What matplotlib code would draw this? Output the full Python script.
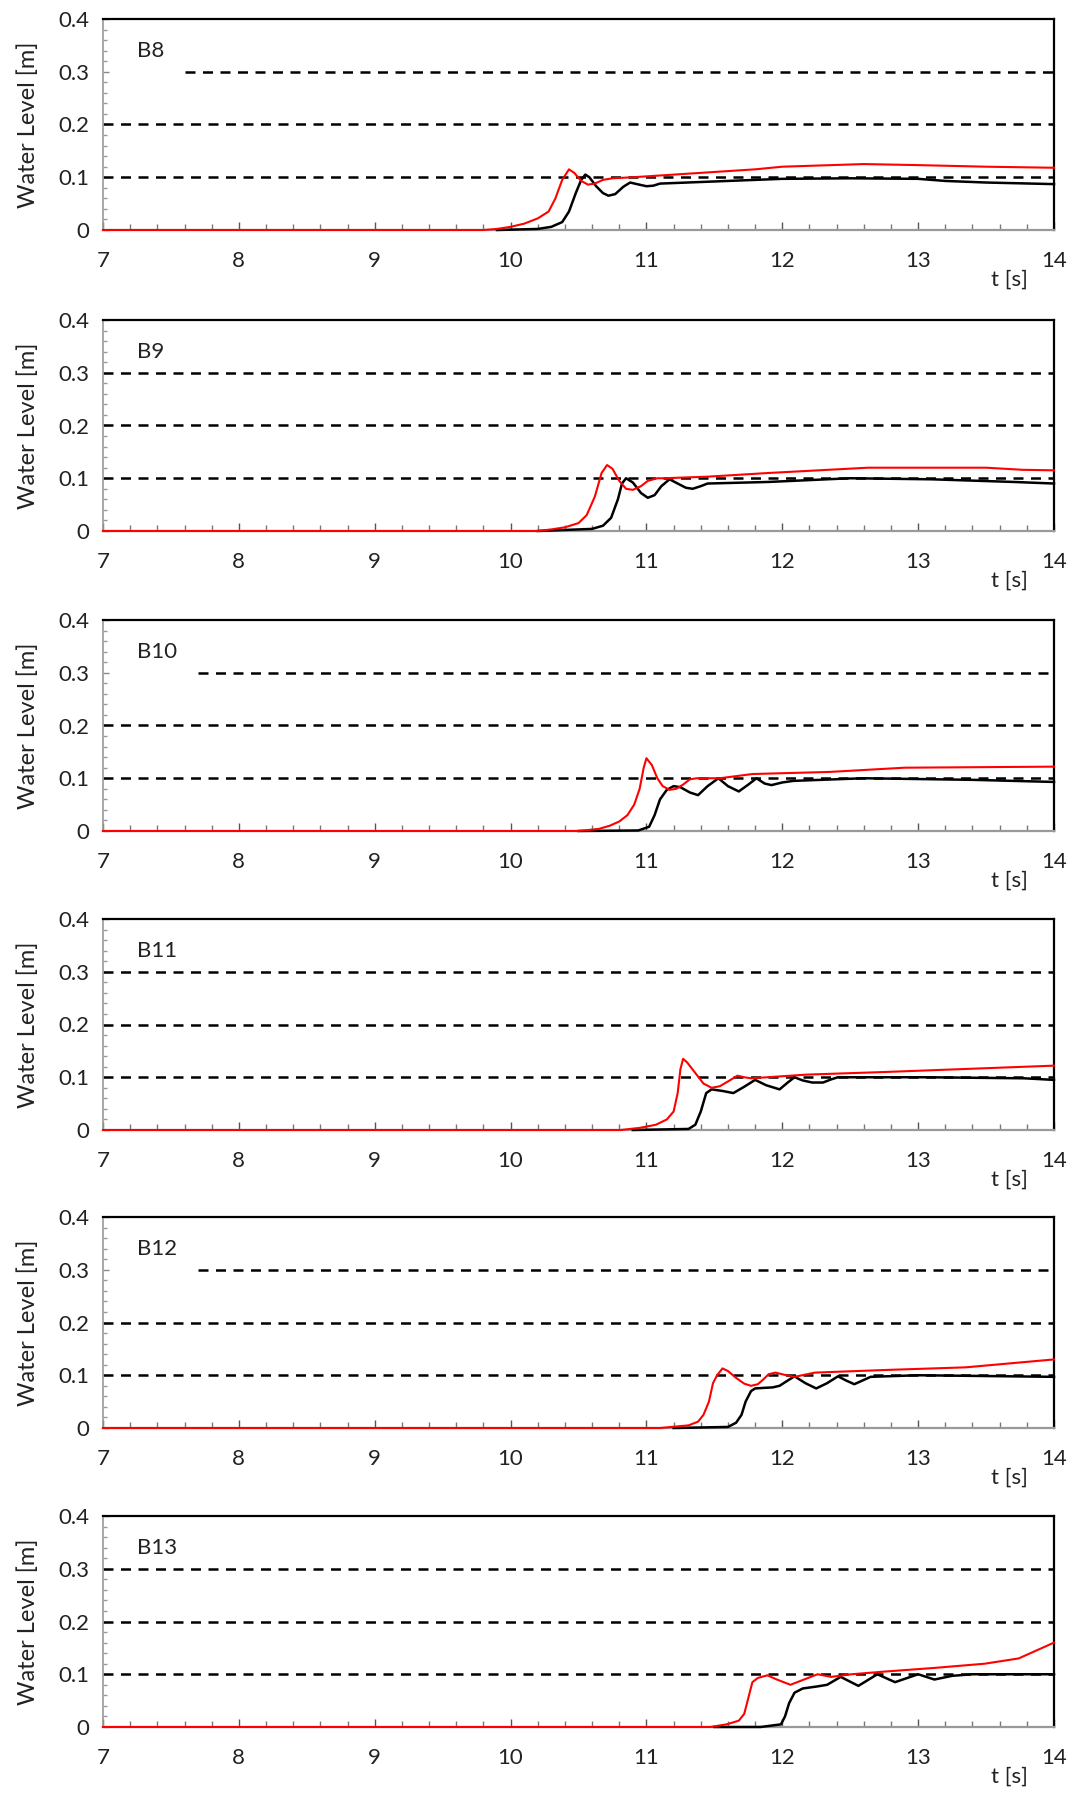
import matplotlib
matplotlib.use("Agg")
import matplotlib.pyplot as plt
from matplotlib.ticker import MultipleLocator, FuncFormatter

plt.rcParams['font.family'] = ['Lato', 'DejaVu Sans']

gauges = ["B8", "B9", "B10", "B11", "B12", "B13"]

# red series (keypoints: time [s], water level [m])
b8_red_t = [7.0, 9.8, 9.9, 10.0, 10.1, 10.2, 10.28, 10.33, 10.38, 10.43, 10.47, 10.52, 10.57, 10.62, 10.68, 10.75, 10.9, 11.2, 11.5, 11.8, 12.0, 12.6, 13.0, 13.5, 14.0]
b8_red_h = [0.0, 0.0, 0.002, 0.006, 0.012, 0.022, 0.035, 0.06, 0.095, 0.115, 0.108, 0.093, 0.086, 0.088, 0.095, 0.098, 0.1, 0.105, 0.11, 0.115, 0.12, 0.125, 0.123, 0.12, 0.118]
b8_blk_t = [9.9, 10.2, 10.3, 10.38, 10.43, 10.48, 10.52, 10.55, 10.58, 10.63, 10.68, 10.72, 10.77, 10.83, 10.88, 10.93, 11.0, 11.05, 11.1, 11.5, 12.0, 12.5, 13.0, 13.2, 13.5, 14.0]
b8_blk_h = [0.0, 0.002, 0.006, 0.015, 0.035, 0.07, 0.095, 0.105, 0.1, 0.083, 0.07, 0.065, 0.068, 0.082, 0.09, 0.087, 0.083, 0.084, 0.088, 0.092, 0.097, 0.098, 0.097, 0.093, 0.09, 0.087]

b9_red_t = [7.0, 10.2, 10.3, 10.4, 10.5, 10.56, 10.62, 10.67, 10.71, 10.75, 10.8, 10.85, 10.9, 10.96, 11.01, 11.08, 11.13, 11.45, 11.9, 12.63, 13.5, 13.77, 14.0]
b9_red_h = [0.0, 0.0, 0.003, 0.007, 0.015, 0.03, 0.065, 0.11, 0.125, 0.118, 0.095, 0.08, 0.078, 0.085, 0.095, 0.1, 0.1, 0.103, 0.11, 0.12, 0.12, 0.116, 0.115]
b9_blk_t = [10.2, 10.6, 10.68, 10.74, 10.79, 10.82, 10.85, 10.9, 10.96, 11.01, 11.06, 11.11, 11.17, 11.23, 11.29, 11.34, 11.4, 11.45, 11.9, 12.5, 13.1, 13.7, 14.0]
b9_blk_h = [0.0, 0.004, 0.01, 0.025, 0.06, 0.09, 0.1, 0.092, 0.072, 0.063, 0.068, 0.085, 0.098, 0.09, 0.082, 0.08, 0.085, 0.09, 0.093, 0.1, 0.098, 0.093, 0.09]

b10_red_t = [7.0, 10.5, 10.65, 10.73, 10.8, 10.86, 10.91, 10.95, 10.98, 11.0, 11.04, 11.08, 11.12, 11.17, 11.22, 11.27, 11.32, 11.37, 11.54, 11.78, 12.35, 12.9, 14.0]
b10_red_h = [0.0, 0.0, 0.004, 0.01, 0.018, 0.03, 0.05, 0.08, 0.12, 0.138, 0.125, 0.1, 0.085, 0.078, 0.08, 0.088, 0.098, 0.1, 0.1, 0.108, 0.112, 0.12, 0.122]
b10_blk_t = [10.5, 10.94, 11.02, 11.06, 11.1, 11.15, 11.2, 11.25, 11.32, 11.38, 11.45, 11.53, 11.6, 11.68, 11.75, 11.81, 11.87, 11.92, 12.0, 12.08, 12.6, 13.4, 14.0]
b10_blk_h = [0.0, 0.001, 0.008, 0.03, 0.06, 0.078, 0.085, 0.083, 0.073, 0.068, 0.085, 0.1, 0.085, 0.075, 0.088, 0.1, 0.09, 0.087, 0.092, 0.095, 0.1, 0.097, 0.093]

b11_red_t = [7.0, 10.81, 10.95, 11.07, 11.15, 11.2, 11.23, 11.25, 11.27, 11.3, 11.36, 11.42, 11.48, 11.54, 11.6, 11.67, 11.72, 11.77, 11.89, 12.18, 12.76, 14.0]
b11_red_h = [0.0, 0.0, 0.004, 0.01, 0.02, 0.035, 0.07, 0.115, 0.135, 0.128, 0.108, 0.088, 0.08, 0.083, 0.092, 0.103, 0.1, 0.098, 0.1, 0.105, 0.11, 0.122]
b11_blk_t = [10.9, 11.31, 11.36, 11.4, 11.44, 11.48, 11.56, 11.64, 11.72, 11.8, 11.88, 11.98, 12.04, 12.09, 12.15, 12.22, 12.3, 12.36, 12.41, 13.06, 13.78, 14.0]
b11_blk_h = [0.0, 0.002, 0.01, 0.035, 0.07, 0.077, 0.074, 0.07, 0.082, 0.095, 0.085, 0.077, 0.09, 0.1, 0.094, 0.09, 0.09, 0.096, 0.1, 0.1, 0.098, 0.095]

b12_red_t = [7.0, 11.1, 11.31, 11.38, 11.42, 11.46, 11.49, 11.52, 11.56, 11.6, 11.66, 11.72, 11.77, 11.82, 11.86, 11.9, 11.95, 12.03, 12.09, 12.24, 12.76, 13.35, 14.0]
b12_red_h = [0.0, 0.0, 0.005, 0.012, 0.025, 0.05, 0.085, 0.1, 0.113, 0.108, 0.095, 0.084, 0.08, 0.083, 0.092, 0.102, 0.105, 0.1, 0.097, 0.105, 0.11, 0.115, 0.13]
b12_blk_t = [11.2, 11.6, 11.66, 11.7, 11.73, 11.77, 11.8, 11.86, 11.93, 11.98, 12.04, 12.09, 12.17, 12.25, 12.33, 12.41, 12.47, 12.53, 12.65, 13.0, 14.0]
b12_blk_h = [0.0, 0.002, 0.01, 0.025, 0.05, 0.07, 0.075, 0.076, 0.077, 0.08, 0.09, 0.098, 0.085, 0.075, 0.085, 0.098, 0.09, 0.083, 0.097, 0.1, 0.097]

b13_red_t = [7.0, 11.47, 11.59, 11.68, 11.72, 11.75, 11.78, 11.82, 11.89, 11.96, 12.06, 12.16, 12.26, 12.36, 12.51, 12.75, 13.12, 13.49, 13.74, 14.0]
b13_red_h = [0.0, 0.0, 0.005, 0.012, 0.025, 0.055, 0.085, 0.093, 0.098, 0.09, 0.08, 0.09, 0.1, 0.095, 0.1, 0.105, 0.112, 0.12, 0.13, 0.16]
b13_blk_t = [11.5, 11.84, 11.99, 12.02, 12.05, 12.09, 12.15, 12.26, 12.33, 12.43, 12.56, 12.7, 12.83, 13.0, 13.12, 13.25, 13.4, 14.0]
b13_blk_h = [0.0, 0.0, 0.005, 0.02, 0.045, 0.065, 0.073, 0.077, 0.08, 0.095, 0.078, 0.1, 0.085, 0.1, 0.09, 0.097, 0.1, 0.1]

red_t = [b8_red_t, b9_red_t, b10_red_t, b11_red_t, b12_red_t, b13_red_t]
red_h = [b8_red_h, b9_red_h, b10_red_h, b11_red_h, b12_red_h, b13_red_h]
blk_t = [b8_blk_t, b9_blk_t, b10_blk_t, b11_blk_t, b12_blk_t, b13_blk_t]
blk_h = [b8_blk_h, b9_blk_h, b10_blk_h, b11_blk_h, b12_blk_h, b13_blk_h]

ref_levels = [0.1, 0.2, 0.3]
x_ticks = [7, 8, 9, 10, 11, 12, 13, 14]
y_ticks = [0, 0.1, 0.2, 0.3, 0.4]
grid03_start = [7.6, 7.0, 7.7, 7.0, 7.7, 7.0]

W, H = 1073, 1794
fig = plt.figure(figsize=(W / 100, H / 100), dpi=100)

bottoms_px = [230, 531, 831, 1130, 1428, 1727]
ax_h_px = 211
left_px, right_px = 103, 1054

for i, g in enumerate(gauges):
    b = bottoms_px[i]
    ax = fig.add_axes([left_px / W, 1 - b / H, (right_px - left_px) / W, ax_h_px / H])
    ax.set_xlim(7, 14)
    ax.set_ylim(0, 0.4)
    for lv in ref_levels:
        xs = grid03_start[i] if lv == 0.3 else 7.0
        ax.plot([xs, 14], [lv, lv], color='black', lw=1.8, ls=(0, (4, 3)), zorder=2)
    ax.plot(blk_t[i], blk_h[i], color='black', lw=1.8, zorder=3, clip_on=False,
            solid_joinstyle='round')
    ax.plot(red_t[i], red_h[i], color='#ff0000', lw=1.5, zorder=4, clip_on=False,
            solid_joinstyle='round')

    ax.set_xticks(x_ticks)
    ax.set_yticks(y_ticks)
    ax.yaxis.set_major_formatter(FuncFormatter(lambda v, p: "0" if abs(v) < 1e-9 else f"{v:.1f}"))
    ax.xaxis.set_minor_locator(MultipleLocator(0.2))
    ax.yaxis.set_minor_locator(MultipleLocator(0.02))
    ax.tick_params(axis='x', which='major', direction='in', length=6, width=1, color='#555555',
                   labelsize=16, pad=15)
    ax.tick_params(axis='x', which='minor', direction='in', length=4, width=1, color='#777777')
    ax.tick_params(axis='y', which='major', direction='in', length=4, width=1, color='#888888',
                   labelsize=16, pad=10)
    ax.tick_params(axis='y', which='minor', direction='in', length=3, width=1, color='#999999')
    for lab in ax.get_xticklabels() + ax.get_yticklabels():
        lab.set_color('#222222')

    ax.spines['top'].set_color('black')
    ax.spines['top'].set_linewidth(1.6)
    ax.spines['right'].set_color('black')
    ax.spines['right'].set_linewidth(1.6)
    ax.spines['left'].set_color('#999999')
    ax.spines['left'].set_linewidth(1.2)
    ax.spines['bottom'].set_color('#999999')
    ax.spines['bottom'].set_linewidth(1.6)

    ax.set_ylabel("Water Level [m]", fontsize=17, color='#222222', labelpad=14)
    ax.text(7.25, 0.34, g, fontsize=16, color='#222222', va='center', ha='left')
    ax.text(13.67, -0.075, "t [s]", fontsize=16, color='#222222', va='top', ha='center',
            transform=ax.transData, clip_on=False)

fig.savefig("out.png", dpi=100)
